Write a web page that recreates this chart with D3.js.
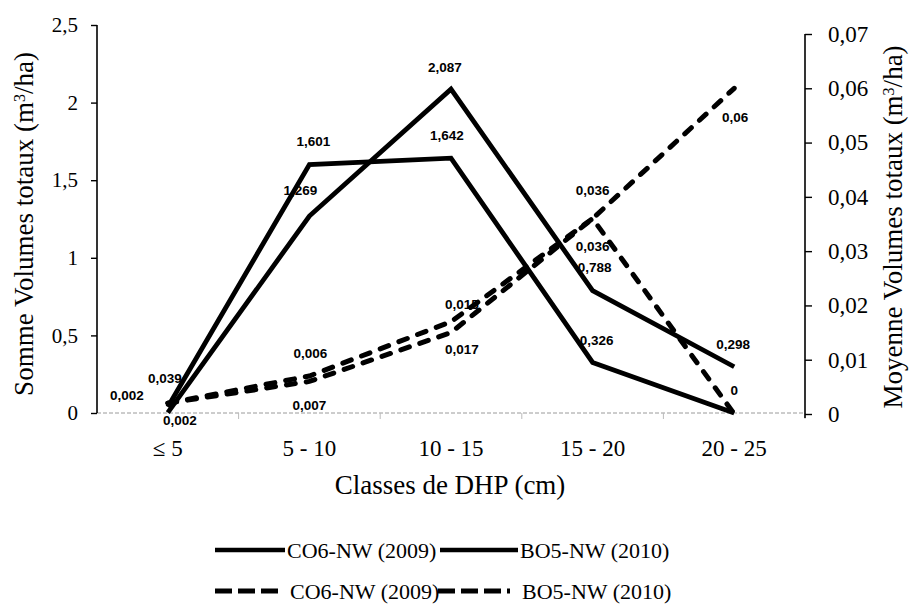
<!DOCTYPE html>
<html>
<head>
<meta charset="utf-8">
<script src="https://cdn.jsdelivr.net/npm/d3@7"></script>
<style>
  html, body { margin: 0; padding: 0; background: #fff; }
  svg { display: block; }
  .tick text { font-family: "Liberation Serif", "Times New Roman", serif; fill: #000; }
  .val { font-family: "Liberation Sans", Arial, sans-serif; font-weight: bold; font-size: 13.5px; fill: #000; }
  .serif { font-family: "Liberation Serif", "Times New Roman", serif; fill: #000; }
</style>
</head>
<body>
<svg id="chart" width="910" height="608"></svg>
<script>
// DBH classes (cm)
const categories = ["≤ 5", "5 - 10", "10 - 15", "15 - 20", "20 - 25"];

// Total volume sums (m³/ha) — left axis
const sumCO6 = [0.039, 1.601, 1.642, 0.326, 0];
const sumBO5 = [0.002, 1.269, 2.087, 0.788, 0.298];

// Mean total volumes (m³/ha) — right axis
const meanCO6 = [0.002, 0.006, 0.015, 0.036, 0.06];
const meanBO5 = [0.002, 0.007, 0.017, 0.036, 0];

const leftTicks = [0, 0.5, 1, 1.5, 2, 2.5];
const rightTicks = [0, 0.01, 0.02, 0.03, 0.04, 0.05, 0.06, 0.07];

const legendNames = ["CO6-NW (2009)", "BO5-NW (2010)"];

// Label placement per point (dx, dy from the point); null = no label
const offSumCO6 = [[-3, -29], [4, -23], [-4, -23], [4, -22], null];
const offSumBO5 = [[-41, -17], [-9, -26], [-6, -22], [2, -23], [-1, -22]];
const offMeanCO6 = [null, [1, -28], [11, -28], [0, -28], [1, 29]];
const offMeanBO5 = [[12, 17], [0, 29], [11, 28], [0, 28], [0, -24]];

const svg = d3.select("#chart");
const fr = d3.formatLocale({ decimal: ",", thousands: " ", grouping: [3], currency: ["", " €"] });
const fmtLeft = fr.format(".1~f");
const fmtRight = fr.format(".2~f");
const fmtVal = v => String(v).replace(".", ",");

const x0 = 97, x1 = 805;
const x = d3.scalePoint().domain(categories).range([x0, x1]).padding(0.5);
const band = (x1 - x0) / categories.length;
const yL = d3.scaleLinear().domain([0, 2.5]).range([413, 25]);
const yR = d3.scaleLinear().domain([0, 0.07]).range([414, 34]);

// faint category axis
const xa = svg.append("g");
xa.append("line")
  .attr("x1", x0).attr("x2", x1).attr("y1", 413).attr("y2", 413)
  .attr("stroke", "#9a9a9a").attr("stroke-width", 1).attr("stroke-dasharray", "4,2");
xa.selectAll("line.sep").data(d3.range(1, categories.length + 1)).join("line")
  .attr("class", "sep")
  .attr("x1", i => x0 + i * band).attr("x2", i => x0 + i * band)
  .attr("y1", 413).attr("y2", 419)
  .attr("stroke", "#bbb").attr("stroke-width", 1);

// category labels
svg.append("g").selectAll("text").data(categories).join("text")
  .attr("class", "serif")
  .attr("x", d => x(d)).attr("y", 456)
  .attr("text-anchor", "middle")
  .style("font-size", "23px")
  .text(d => d);

// left axis
const gL = svg.append("g").attr("transform", `translate(${x0},0)`)
  .call(d3.axisLeft(yL).tickValues(leftTicks).tickFormat(fmtLeft).tickSize(6).tickPadding(13));
gL.select(".domain").attr("stroke", "#000").attr("stroke-width", 1.6).attr("d", `M-0,${yL(2.5)}V${yL(0)}`);
gL.selectAll(".tick line").attr("stroke", "#000").attr("stroke-width", 1.4);
gL.selectAll(".tick text").style("font-size", "21px");

// right axis
const gR = svg.append("g").attr("transform", `translate(${x1},0)`)
  .call(d3.axisRight(yR).tickValues(rightTicks).tickFormat(fmtRight).tickSize(7).tickPadding(16));
gR.select(".domain").attr("stroke", "#000").attr("stroke-width", 1.6).attr("d", `M0,${yR(0.07)}V${yR(0) + 4}`);
gR.selectAll(".tick line").attr("stroke", "#000").attr("stroke-width", 1.4);
gR.selectAll(".tick text").style("font-size", "23px");

// axis titles
function titleWithSup(g, before, after) {
  const t = g.append("text")
    .attr("class", "serif")
    .attr("text-anchor", "middle")
    .style("font-size", "27px");
  t.append("tspan").text(before);
  t.append("tspan").attr("baseline-shift", "super").style("font-size", "16px").text("3");
  t.append("tspan").text(after);
  return t;
}
titleWithSup(svg.append("g").attr("transform", "translate(33,224) rotate(-90)"), "Somme Volumes totaux (m", "/ha)");
titleWithSup(svg.append("g").attr("transform", "translate(902,227) rotate(-90)"), "Moyenne Volumes totaux (m", "/ha)");

svg.append("text")
  .attr("class", "serif")
  .attr("x", 450).attr("y", 494)
  .attr("text-anchor", "middle")
  .style("font-size", "27px")
  .text("Classes de DHP (cm)");

// series
const series = [
  { values: sumCO6, y: yL, dash: null, off: offSumCO6 },
  { values: sumBO5, y: yL, dash: null, off: offSumBO5 },
  { values: meanCO6, y: yR, dash: "9,11", off: offMeanCO6 },
  { values: meanBO5, y: yR, dash: "9,11", off: offMeanBO5 }
];

// value labels (drawn beneath the lines)
const gLab = svg.append("g");
series.forEach(s => {
  s.values.forEach((v, i) => {
    const o = s.off[i];
    if (!o) return;
    gLab.append("text").attr("class", "val")
      .attr("x", x(categories[i]) + o[0])
      .attr("y", s.y(v) + o[1])
      .attr("dy", "0.35em")
      .attr("text-anchor", "middle")
      .text(fmtVal(v));
  });
});

const gLines = svg.append("g");
series.forEach(s => {
  const line = d3.line().x((d, i) => x(categories[i])).y(d => s.y(d));
  gLines.append("path")
    .attr("d", line(s.values))
    .attr("fill", "none")
    .attr("stroke", "#000")
    .attr("stroke-width", s.dash ? 5 : 4.8)
    .attr("stroke-linejoin", "miter")
    .attr("stroke-linecap", s.dash ? "round" : "butt")
    .attr("stroke-dasharray", s.dash);
});

// legend
const legendRows = [
  { y: 550, dash: null, items: [{ lx: 215, lw: 70, tx: 287 }, { lx: 440, lw: 78, tx: 520 }] },
  { y: 591, dash: "17,6", items: [{ lx: 215, lw: 63, tx: 290 }, { lx: 438, lw: 72, tx: 522 }] }
];
const gLeg = svg.append("g");
legendRows.forEach(r => {
  r.items.forEach((it, k) => {
    gLeg.append("line")
      .attr("x1", it.lx).attr("x2", it.lx + it.lw)
      .attr("y1", r.y).attr("y2", r.y)
      .attr("stroke", "#000").attr("stroke-width", r.dash ? 5 : 4.5)
      .attr("stroke-dasharray", r.dash);
    gLeg.append("text")
      .attr("class", "serif")
      .attr("x", it.tx).attr("y", r.y).attr("dy", "0.35em")
      .style("font-size", "22px")
      .text(legendNames[k]);
  });
});
</script>
</body>
</html>
